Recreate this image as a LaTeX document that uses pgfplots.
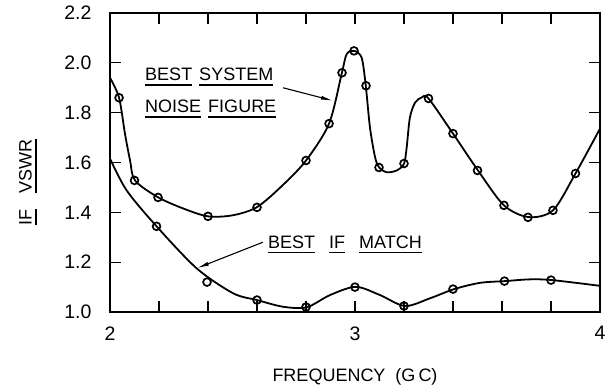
\documentclass[border=0pt]{standalone}
\usepackage{fontspec}
\setmainfont{Liberation Sans}
\usepackage{pgfplots}
\pgfplotsset{compat=1.18}
\usetikzlibrary{arrows.meta}
\newcommand\ul[1]{\setbox0=\hbox{#1}\rlap{\rule[-5pt]{\wd0}{1.4pt}}\box0}
\begin{document}
\begin{tikzpicture}
\useasboundingbox (-110pt,-79pt) rectangle (497pt,312pt);
\begin{axis}[
  at={(0pt,0pt)}, anchor=south west, scale only axis,
  width=490pt, height=299pt,
  xmin=2, xmax=4, ymin=1, ymax=2.2,
  xtick={2,3,4}, xticklabels={2,3,4},
  minor xtick={2.2,2.4,2.6,2.8,3.2,3.4,3.6,3.8},
  ytick={1.0,1.2,1.4,1.6,1.8,2.0,2.2},
  yticklabels={1.0,1.2,1.4,1.6,1.8,2.0,2.2},
  tick align=inside, major tick length=11pt, minor tick length=11pt,
  every tick/.style={line width=1.3pt, black},
  axis line style={line width=1.8pt},
  ticklabel style={font=\fontsize{19.5}{22}\selectfont},
  /pgf/number format/assume math mode=true,
  xticklabel style={yshift=-11pt},
  yticklabel style={xshift=-15pt},
  clip=false,
]
% Best system noise figure: curve
\addplot[line width=1.8pt, smooth, tension=0.5] coordinates {
(2.0,1.94) (2.037,1.86) (2.061,1.716) (2.082,1.608) (2.102,1.528) (2.195,1.461)
(2.30,1.415) (2.40,1.384) (2.50,1.388) (2.60,1.421) (2.706,1.51) (2.80,1.608)
(2.894,1.756) (2.946,1.958) (2.966,2.035) (2.996,2.048) (3.027,2.021) (3.044,1.908)
(3.061,1.741) (3.082,1.621) (3.098,1.581) (3.129,1.561) (3.170,1.568) (3.20,1.595)
(3.211,1.661) (3.224,1.78) (3.245,1.84) (3.272,1.861) (3.30,1.857) (3.40,1.716)
(3.502,1.568) (3.608,1.428) (3.708,1.381) (3.808,1.408) (3.90,1.556) (4.0,1.736)
};
\addplot[only marks, mark=o, mark size=3.9pt, mark options={line width=1.7pt, fill=white}] coordinates {
(2.037,1.86) (2.10,1.528) (2.196,1.46) (2.40,1.384) (2.60,1.42) (2.80,1.608)
(2.894,1.756) (2.947,1.96) (2.996,2.048) (3.045,1.908) (3.098,1.58) (3.20,1.596)
(3.30,1.857) (3.40,1.716) (3.50,1.568) (3.608,1.428) (3.706,1.38) (3.808,1.408) (3.90,1.556)
};
% Best IF match: curve
\addplot[line width=1.8pt, smooth, tension=0.5] coordinates {
(2.0,1.616) (2.068,1.488) (2.19,1.344) (2.354,1.175) (2.503,1.075) (2.60,1.048)
(2.707,1.021) (2.803,1.019) (2.898,1.068) (3.003,1.101) (3.102,1.068) (3.204,1.024)
(3.306,1.055) (3.405,1.092) (3.51,1.117) (3.612,1.124) (3.714,1.131) (3.805,1.128) (4.0,1.105)
};
\addplot[only marks, mark=o, mark size=3.9pt, mark options={line width=1.7pt, fill=white}] coordinates {
(2.19,1.344) (2.396,1.12) (2.60,1.048) (2.80,1.02) (3.0,1.10) (3.2,1.024)
(3.40,1.092) (3.61,1.124) (3.80,1.128)
};
% annotations
\node[anchor=base west, inner sep=0pt, font=\fontsize{18}{20}\selectfont] at (axis cs:2.143,1.928) {\ul{BEST}\hspace{7pt}\ul{SYSTEM}};
\node[anchor=base west, inner sep=0pt, font=\fontsize{18}{20}\selectfont] at (axis cs:2.143,1.80) {\ul{NOISE}\hspace{7pt}\ul{FIGURE}};
\node[anchor=base west, inner sep=0pt, font=\fontsize{18}{20}\selectfont] at (axis cs:2.645,1.256) {\ul{BEST}\hspace{14pt}\ul{IF}\hspace{14pt}\ul{MATCH}};
\draw[-{Latex[length=12pt,width=4pt]}, line width=1.1pt] (axis cs:2.706,1.90) -- (axis cs:2.91,1.848);
\draw[-{Latex[length=12pt,width=4pt]}, line width=1.1pt] (axis cs:2.624,1.28) -- (axis cs:2.355,1.176);
\node[rotate=90, anchor=base, inner sep=0pt, font=\fontsize{18}{20}\selectfont] at (axis cs:1.68,1.52) {\ul{IF}\hspace{16pt}\ul{VSWR}};
\node[font=\fontsize{18}{20}\selectfont] at (axis cs:3.0,0.74) {FREQUENCY\ \ (G\,C)};
\end{axis}
\end{tikzpicture}
\end{document}
